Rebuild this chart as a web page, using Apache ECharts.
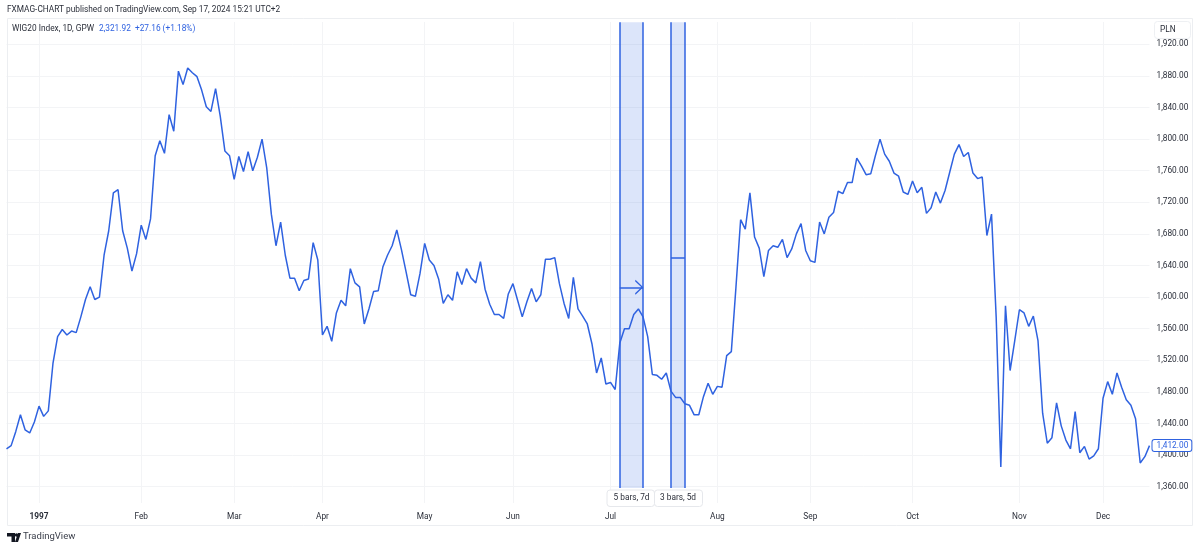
<!DOCTYPE html>
<html>
<head>
<meta charset="utf-8">
<style>html,body{margin:0;padding:0;background:#fff}#c{width:1200px;height:549px}</style>
<script src="https://cdn.jsdelivr.net/npm/echarts@6/dist/echarts.min.js"></script>
</head>
<body>
<div id="c"></div>
<script>
const closes = [
1408,1412,1430,1451,1432,1428,1442,1462,1449,1456,1516,1550,1559,1552,1557,1555,1575,1597,1613,1597,1600,1653,1684,1732,1736,1684,1662,1633,1655,1691,1673,1699,1779,1798,1782,1831,1810,1886,1869,1890,1884,1879,1862,1841,1835,1864,1829,1785,1779,1749,1778,1759,1784,1760,1777,1800,1764,1705,1665,1695,1653,1624,1624,1608,
1621,1623,1669,1647,1552,1563,1544,1580,1596,1589,1636,1618,1613,1566,1585,1607,1608,1638,1653,1665,1685,1660,1632,1603,1601,1630,1668,1647,1640,1623,1592,1603,1596,1632,1616,1636,1624,1618,1645,1610,1591,1578,1578,1573,1604,1617,1596,1575,1594,1611,1594,1603,1648,1648,1650,1617,1592,1573,1625,1585,1576,1566,1541,1504,1523,1490,1492,1483,
1542,1560,1560,1578,1585,1575,1550,1502,1501,1496,1504,1481,1473,1473,1465,1463,1451,1451,1474,1491,1477,1487,1486,1526,1531,1613,1698,1686,1732,1676,1662,1626,1659,1665,1663,1673,1650,1661,1680,1693,1659,1646,1644,1695,1680,1701,1707,1734,
1731,1745,1745,1776,1766,1755,1756,1779,1800,1781,1772,1757,1753,1733,1730,1747,1732,1739,1706,1713,1733,1719,1735,1758,1781,1793,1778,1783,1757,1750,1752,1678,1705,1575,
1385,1589,1507,1545,1584,1580,1563,1576,1545,1453,1415,1422,1466,1437,1419,1408,1455,1403,1411,1395,1399,1408,1472,1493,1477,1504,1486,1470,1463,1446,1390,1398,1412
];
const categories = closes.map((_, i) => String(i));
const monthLabels = {7:'1997',29:'Feb',49:'Mar',68:'Apr',90:'May',109:'Jun',130:'Jul',153:'Aug',173:'Sep',195:'Oct',218:'Nov',236:'Dec'};
const rangeOne = ['132','137'];
const rangeTwo = ['143','146'];
const rangeTop = 1948, rangeBottom = 1358.4;
const arrowLevel = 1612.4, dashLevel = 1650;
const BLUE = '#2f62e0', GRID = '#f3f4f6', TEXT = '#2a2e39', FONT = 'Roboto, sans-serif', FS = 8.3;
const chevron = 'path://M5,0L5.001,0L5,0ZM0,20L5,10L10,20L9,20.6L5,12.4L1,20.6Z';

const vLine = x => [{coord:[x, rangeTop], symbol:'none'}, {coord:[x, rangeBottom], symbol:'none'}];
const label = (x,y,t,o={}) => ({type:'text', z:20, x, y, style:Object.assign({text:t, fill:TEXT, font:FS+'px '+FONT, verticalAlign:'middle'}, o)});
const chart = echarts.init(document.getElementById('c'));
chart.setOption({
  animation:false,
  backgroundColor:'#fff',
  grid:[
    {left:6.5, right:50.5, top:12.7, bottom:30.7},
    {left:6.5, right:50.5, top:22, bottom:46}
  ],
  xAxis:[
    {type:'category', gridIndex:0, data:categories, boundaryGap:false, show:false},
    {type:'category', gridIndex:1, data:categories, boundaryGap:false,
     axisLine:{show:false}, axisTick:{show:false},
     splitLine:{show:true, interval:i => i in monthLabels, lineStyle:{color:GRID, width:1}},
     axisLabel:{interval:i => i in monthLabels, hideOverlap:false, margin:10, fontFamily:FONT, fontSize:FS, color:TEXT,
       formatter:v => v === '7' ? '{y|' + monthLabels[v] + '}' : (monthLabels[v] || ''),
       rich:{y:{fontFamily:FONT, fontSize:FS, fontWeight:'bold', color:TEXT}}}}
  ],
  yAxis:[
    {type:'value', gridIndex:0, position:'right', min:1320, max:1960, interval:40,
     axisLine:{show:false}, axisTick:{show:false},
     splitLine:{show:true, showMinLine:false, showMaxLine:false, lineStyle:{color:GRID, width:1}},
     axisLabel:{margin:7, padding:[2,0,0,0], fontFamily:FONT, fontSize:FS, color:TEXT,
       formatter:v => (v===1320||v===1960) ? '' : v.toLocaleString('en-US',{minimumFractionDigits:2, maximumFractionDigits:2})}},
    {type:'value', gridIndex:1, show:false, min:0, max:1}
  ],
  series:[{
    type:'line', xAxisIndex:0, yAxisIndex:0, data:closes, showSymbol:false, clip:false, z:5,
    lineStyle:{color:BLUE, width:1.5}, itemStyle:{color:BLUE},
    endLabel:{show:true, distance:3, formatter:p => p.value.toLocaleString('en-US',{minimumFractionDigits:2}),
      color:BLUE, fontFamily:FONT, fontSize:FS, backgroundColor:'#fff', borderColor:BLUE, borderWidth:1, borderRadius:2, padding:[2,3,1,4]},
    markArea:{silent:true, itemStyle:{color:'rgba(47,98,224,0.17)'}, data:[
      [{coord:[rangeOne[0], rangeTop]},{coord:[rangeOne[1], rangeBottom]}],
      [{coord:[rangeTwo[0], rangeTop]},{coord:[rangeTwo[1], rangeBottom]}]
    ]},
    markLine:{silent:true, animation:false, label:{show:false}, lineStyle:{color:BLUE, width:1.5, type:'solid'}, data:[
      vLine(rangeOne[0]), vLine(rangeOne[1]), vLine(rangeTwo[0]), vLine(rangeTwo[1]),
      [{coord:[rangeOne[0], arrowLevel], symbol:'none'},{coord:[rangeOne[1], arrowLevel], symbol:chevron, symbolSize:[15,16]}],
      [{coord:[rangeTwo[0], dashLevel], symbol:'none'},{coord:[rangeTwo[1], dashLevel], symbol:'none'}]
    ]}
  }],
  graphic:[
    {type:'rect', z:1, silent:true, shape:{x:7.5,y:18.5,width:1185,height:507}, style:{fill:'none', stroke:'#eceef1', lineWidth:1}},
    label(7,10,'FXMAG-CHART published on TradingView.com, Sep 17, 2024 15:21 UTC+2'),
    label(12,29,'WIG20 Index, 1D, GPW'),
    label(99,29,'2,321.92',{fill:BLUE}),
    label(135,29,'+27.16 (+1.18%)',{fill:BLUE}),
    {type:'rect', z:19, shape:{x:1154.5,y:21.5,width:36,height:17,r:3}, style:{fill:'#fff', stroke:'#eef0f3', lineWidth:1}},
    label(1160,29.5,'PLN'),
    {type:'rect', z:19, shape:{x:607,y:490,width:47.5,height:16.5,r:3}, style:{fill:'#fff', stroke:'#e6e8ec', lineWidth:1}},
    {type:'rect', z:19, shape:{x:654.5,y:490,width:48,height:16.5,r:3}, style:{fill:'#fff', stroke:'#e6e8ec', lineWidth:1}},
    label(613.5,498,'5 bars, 7d'),
    label(660,498,'3 bars, 5d'),
    {type:'polygon', z:20, shape:{points:[[7,533],[15,533],[15,542],[11.5,542],[11.5,536.5],[7,536.5]]}, style:{fill:'#131722'}},
    {type:'circle', z:20, shape:{cx:16.5,cy:535,r:1.7}, style:{fill:'#131722'}},
    {type:'polygon', z:20, shape:{points:[[18,533],[21,533],[18,542],[15,542]]}, style:{fill:'#131722'}},
    label(23,537,'TradingView',{font:'9.5px '+FONT, fill:'#3a3e4a'})
  ]
});
</script>
</body>
</html>
